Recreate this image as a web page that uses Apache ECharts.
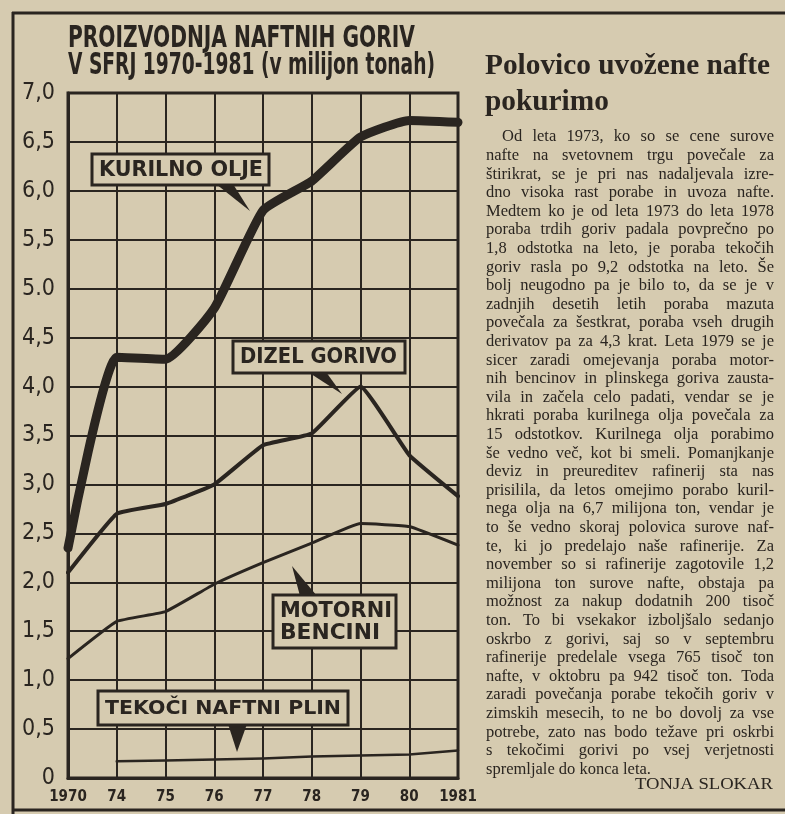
<!DOCTYPE html>
<html><head><meta charset="utf-8">
<script src="https://cdn.jsdelivr.net/npm/echarts@6/dist/echarts.min.js"></script>
<style>html,body{margin:0;padding:0;background:#d6cbb0}#c{width:785px;height:814px}</style>
</head><body><div id="c"></div>
<script>
// ---------- DATA ----------
const categories = ['1970','74','75','76','77','78','79','80','1981'];
const yTickLabels = ['0','0,5','1,0','1,5','2,0','2,5','3,0','3,5','4,0','4,5','5.0','5,5','6,0','6,5','7,0'];
const kurilnoOlje = [2.35, 4.3, 4.28, 4.8, 5.8, 6.1, 6.55, 6.72, 6.7];
const dizelGorivo = [2.1, 2.7, 2.8, 3.0, 3.4, 3.52, 4.0, 3.3, 2.88];
const motorniBencini = [1.22, 1.6, 1.7, 1.98, 2.2, 2.4, 2.6, 2.57, 2.38];
const tekociNaftniPlin = [null, 0.17, 0.18, 0.19, 0.2, 0.22, 0.23, 0.24, 0.28];
const seriesNames = ['KURILNO OLJE', 'DIZEL GORIVO', 'MOTORNI BENCINI', 'TEKOČI NAFTNI PLIN'];
const titleLines = ['PROIZVODNJA NAFTNIH GORIV', 'V SFRJ 1970-1981 (v milijon tonah)'];
const headlineLines = ['Polovico uvožene nafte', 'pokurimo'];
const bodyLines = [
 'Od leta 1973, ko so se cene surove',
 'nafte na svetovnem trgu povečale za',
 'štirikrat, se je pri nas nadaljevala izre-',
 'dno visoka rast porabe in uvoza nafte.',
 'Medtem ko je od leta 1973 do leta 1978',
 'poraba trdih goriv padala povprečno po',
 '1,8 odstotka na leto, je poraba tekočih',
 'goriv rasla po 9,2 odstotka na leto. Še',
 'bolj neugodno pa je bilo to, da se je v',
 'zadnjih desetih letih poraba mazuta',
 'povečala za šestkrat, poraba vseh drugih',
 'derivatov pa za 4,3 krat. Leta 1979 se je',
 'sicer zaradi omejevanja poraba motor-',
 'nih bencinov in plinskega goriva zausta-',
 'vila in začela celo padati, vendar se je',
 'hkrati poraba kurilnega olja povečala za',
 '15 odstotkov. Kurilnega olja porabimo',
 'še vedno več, kot bi smeli. Pomanjkanje',
 'deviz in preureditev rafinerij sta nas',
 'prisilila, da letos omejimo porabo kuril-',
 'nega olja na 6,7 milijona ton, vendar je',
 'to še vedno skoraj polovica surove naf-',
 'te, ki jo predelajo naše rafinerije. Za',
 'november so si rafinerije zagotovile 1,2',
 'milijona ton surove nafte, obstaja pa',
 'možnost za nakup dodatnih 200 tisoč',
 'ton. To bi vsekakor izboljšalo sedanjo',
 'oskrbo z gorivi, saj so v septembru',
 'rafinerije predelale vsega 765 tisoč ton',
 'nafte, v oktobru pa 942 tisoč ton. Toda',
 'zaradi povečanja porabe tekočih goriv v',
 'zimskih mesecih, to ne bo dovolj za vse',
 'potrebe, zato nas bodo težave pri oskrbi',
 's tekočimi gorivi po vsej verjetnosti',
 'spremljale do konca leta.'
];
const byline = 'TONJA SLOKAR';

// ---------- STYLE ----------
const INK = '#2a2520';
const BG = '#d6cbb0';
const NARROW = '"Liberation Sans Narrow", "DejaVu Sans Condensed", "Roboto", sans-serif';
const SERIF = '"Liberation Serif", "DejaVu Serif", serif';
const BOXF = '"DejaVu Sans", "Open Sans", sans-serif';

const mctx = document.createElement('canvas').getContext('2d');
function tw(text, font) { mctx.font = font; return mctx.measureText(text).width; }

function txt(text, x, y, font, targetW, align) {
  const w = tw(text, font);
  const s = targetW ? targetW / w : 1;
  return {
    type: 'text', x: x, y: y, scaleX: s, z: 120,
    style: { text: text, font: font, fill: INK, align: align || 'left', verticalAlign: 'middle',
             textAlign: align || 'left', textVerticalAlign: 'middle' }
  };
}

const graphics = [];
// page frame
graphics.push({ type: 'line', z: 50, shape: { x1: 12, y1: 13, x2: 785, y2: 13 }, style: { stroke: INK, lineWidth: 3 } });
graphics.push({ type: 'line', z: 50, shape: { x1: 13, y1: 12, x2: 13, y2: 814 }, style: { stroke: INK, lineWidth: 3 } });
graphics.push({ type: 'line', z: 50, shape: { x1: 12, y1: 810, x2: 785, y2: 810 }, style: { stroke: INK, lineWidth: 3 } });

// chart title
const tf = 'bold 31px ' + NARROW;
graphics.push(txt(titleLines[0], 68, 39, tf, 347));
graphics.push(txt(titleLines[1], 68, 66, tf, 367));

// callouts
function callout(rx, ry, rw, rh, lines, targetWs, pointer, font) {
  graphics.push({ type: 'polygon', z: 110, shape: { points: pointer }, style: { fill: INK } });
  graphics.push({ type: 'rect', z: 111, shape: { x: rx, y: ry, width: rw, height: rh },
                  style: { fill: BG, stroke: INK, lineWidth: 3 } });
  const n = lines.length;
  lines.forEach((l, i) => {
    const cy = ry + rh * (i + 0.5) / n + (n > 1 ? (i === 0 ? 2 : -2) : 0);
    graphics.push(txt(l, rx + 7, cy + 1, font, targetWs[i]));
  });
}
const bf = 'bold 21px ' + BOXF;
callout(92, 154, 177, 31, [seriesNames[0]], [164], [[216, 184], [233, 184], [250, 211]], bf);
callout(233, 341, 172, 32, [seriesNames[1]], [157], [[308, 372], [326, 372], [342, 394]], bf);
callout(273, 595, 123, 53, ['MOTORNI', 'BENCINI'], [112, 100], [[300, 596], [317, 596], [292, 566]], bf);
callout(98, 691, 250, 34, [seriesNames[3]], [236], [[228, 724], [247, 724], [237, 752]], 'bold 19px ' + BOXF);

// headline
const hf = 'bold 30px ' + SERIF;
const hs = 285 / tw(headlineLines[0], hf);
graphics.push({ type: 'text', x: 485, y: 66, scaleX: hs, z: 120,
  style: { text: headlineLines[0], font: hf, fill: INK, align: 'left', verticalAlign: 'middle', textAlign: 'left', textVerticalAlign: 'middle' } });
graphics.push({ type: 'text', x: 485, y: 102, scaleX: hs, z: 120,
  style: { text: headlineLines[1], font: hf, fill: INK, align: 'left', verticalAlign: 'middle', textAlign: 'left', textVerticalAlign: 'middle' } });

// body text, justified
const BF = '16.5px ' + SERIF;
const LEFT = 486, RIGHT = 774, W = RIGHT - LEFT, INDENT = 16;
const spW = tw(' ', BF);
const words = bodyLines.map(l => l.split(' '));
let scale = 1;
words.forEach((ws, i) => {
  const avail = W - (i === 0 ? INDENT : 0);
  const sum = ws.reduce((a, w) => a + tw(w, BF), 0);
  const need = sum + (ws.length - 1) * spW * 0.55;
  scale = Math.min(scale, avail / need);
});
words.forEach((ws, i) => {
  const y = 137 + i * 18.6;
  const x0 = LEFT + (i === 0 ? INDENT : 0);
  const avail = RIGHT - x0;
  const widths = ws.map(w => tw(w, BF) * scale);
  const sum = widths.reduce((a, b) => a + b, 0);
  const last = i === words.length - 1;
  const gap = last ? spW * scale : (avail - sum) / Math.max(1, ws.length - 1);
  let x = x0;
  ws.forEach((w, j) => {
    graphics.push({ type: 'text', x: x, y: y, scaleX: scale, z: 120,
      style: { text: w, font: BF, fill: INK, align: 'left', verticalAlign: 'middle', textAlign: 'left', textVerticalAlign: 'middle' } });
    x += widths[j] + gap;
  });
});
// byline
const byf = '17px ' + SERIF;
graphics.push({ type: 'text', x: 773, y: 785, scaleX: 138 / tw(byline, byf), z: 120, originX: 0,
  style: { text: byline, font: byf, fill: INK, align: 'right', verticalAlign: 'middle', textAlign: 'right', textVerticalAlign: 'middle' } });

// ---------- CHART ----------
const chart = echarts.init(document.getElementById('c'), null, { renderer: 'canvas', width: 785, height: 814 });
function lineSeries(name, data, width, smooth) {
  return { name: name, type: 'line', data: data, symbol: 'none', smooth: smooth || false,
    connectNulls: false, z: 5,
    lineStyle: { color: INK, width: width, cap: 'round', join: 'round' }, emphasis: { disabled: true } };
}
chart.setOption({
  backgroundColor: BG,
  animation: false,
  grid: { left: 68, right: 327, top: 93, bottom: 36, show: true, borderColor: INK, borderWidth: 3, backgroundColor: 'transparent' },
  xAxis: {
    type: 'category', data: categories, boundaryGap: false,
    axisLine: { show: true, lineStyle: { color: INK, width: 3 } },
    axisTick: { show: false },
    splitLine: { show: true, lineStyle: { color: INK, width: 2 } },
    axisLabel: { color: INK, fontFamily: NARROW, fontWeight: 'bold', fontSize: 15, margin: 12, interval: 0 }
  },
  yAxis: {
    type: 'value', min: 0, max: 7, interval: 0.5,
    axisLine: { show: true, lineStyle: { color: INK, width: 3 } },
    axisTick: { show: false },
    splitLine: { show: true, lineStyle: { color: INK, width: 2 } },
    axisLabel: { color: INK, fontFamily: NARROW, fontWeight: 'normal', fontSize: 23, margin: 13,
      formatter: v => yTickLabels[Math.round(v * 2)] }
  },
  series: [
    lineSeries(seriesNames[0], kurilnoOlje, 9, 0.15),
    lineSeries(seriesNames[1], dizelGorivo, 4, 0.1),
    lineSeries(seriesNames[2], motorniBencini, 3, 0.1),
    lineSeries(seriesNames[3], tekociNaftniPlin, 2.5, false)
  ],
  graphic: graphics
});
</script></body></html>
